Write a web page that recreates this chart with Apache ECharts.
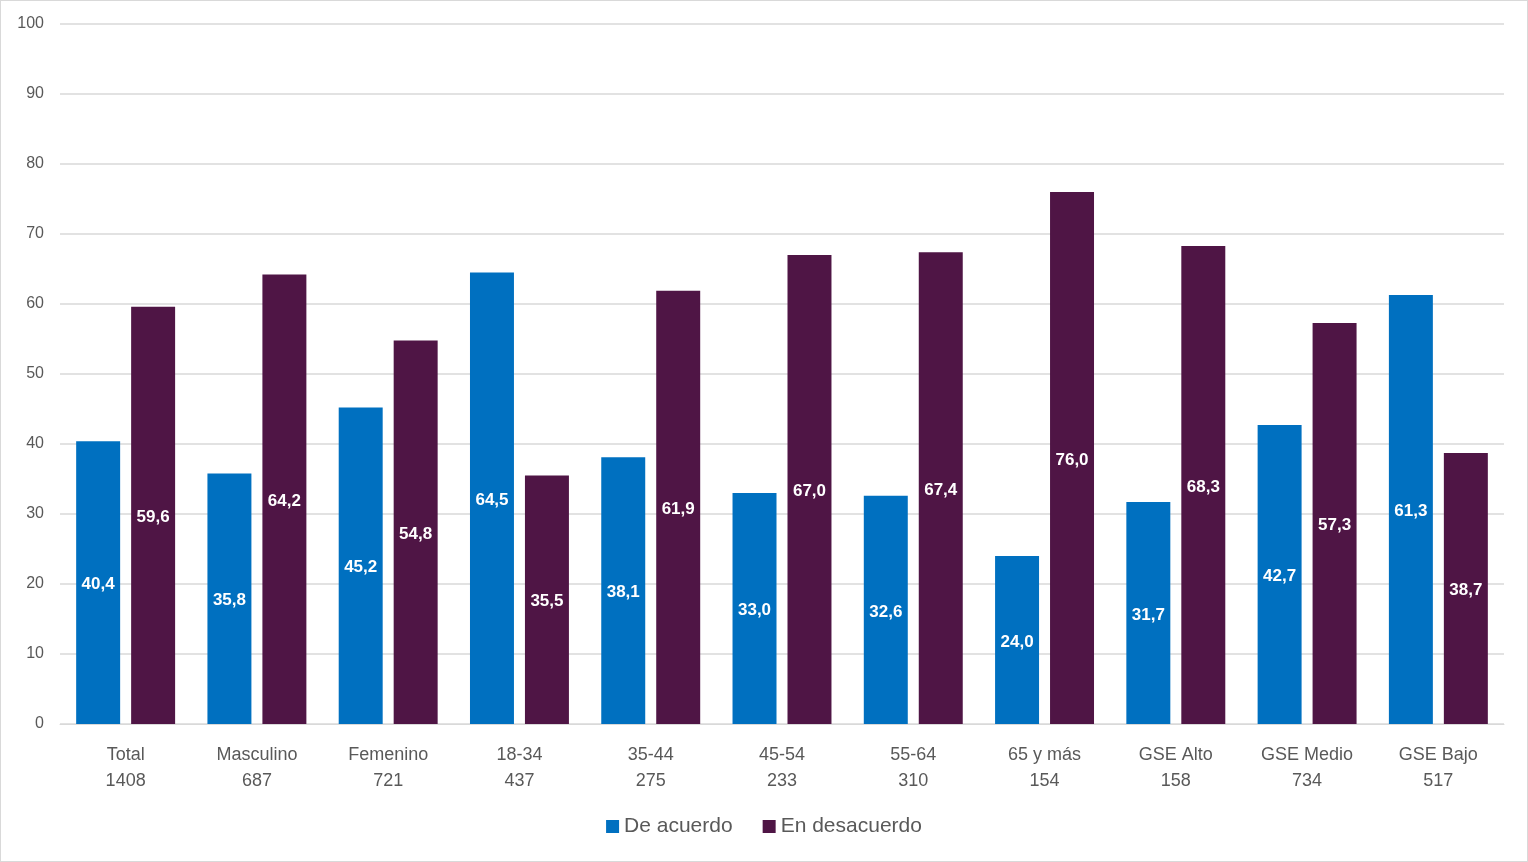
<!DOCTYPE html>
<html><head><meta charset="utf-8">
<script src="https://cdn.jsdelivr.net/npm/echarts@6/dist/echarts.min.js"></script>
<style>html,body{margin:0;padding:0;background:#fff}#c{width:1528px;height:862px;box-sizing:border-box;border:1px solid #d9d9d9}</style>
</head><body><div id="c"></div>
<script>
const categories = ['Total\n1408','Masculino\n687','Femenino\n721','18-34\n437','35-44\n275','45-54\n233','55-64\n310','65 y más\n154','GSE Alto\n158','GSE Medio\n734','GSE Bajo\n517'];
const deAcuerdo = [40.4,35.8,45.2,64.5,38.1,33.0,32.6,24.0,31.7,42.7,61.3];
const enDesacuerdo = [59.6,64.2,54.8,35.5,61.9,67.0,67.4,76.0,68.3,57.3,38.7];
const fmt = p => p.value.toFixed(1).replace('.', ',');
const lbl = {show:true, position:'inside', offset:[0,2], color:'#fff', fontWeight:'bold', fontSize:17, fontFamily:'Liberation Sans, Arial', formatter: fmt};
const chart = echarts.init(document.getElementById('c'));
chart.setOption({
  animation:false,
  textStyle:{fontFamily:'Liberation Sans, Arial'},
  grid:{left:59, right:23, top:23, bottom:137},
  legend:{bottom:19, left:'center', itemWidth:13, itemHeight:13, itemGap:30, icon:'rect',
    textStyle:{fontSize:21, color:'#595959', fontFamily:'Liberation Sans, Arial'}},
  xAxis:{type:'category', data:categories,
    axisLine:{lineStyle:{color:'#d9d9d9'}}, axisTick:{show:false},
    axisLabel:{fontSize:18, color:'#595959', lineHeight:26, margin:18}},
  yAxis:{type:'value', min:0, max:100, interval:10,
    axisLabel:{fontSize:16, color:'#595959', margin:16},
    splitLine:{lineStyle:{color:'#d9d9d9', width:1.5}}},
  series:[
    {name:'De acuerdo', type:'bar', data:deAcuerdo, barWidth:'33.5%', barGap:'25%', itemStyle:{color:'#0070C0'}, label:lbl},
    {name:'En desacuerdo', type:'bar', data:enDesacuerdo, barWidth:'33.5%', itemStyle:{color:'#4F1545'}, label:lbl}
  ]
});
</script></body></html>
